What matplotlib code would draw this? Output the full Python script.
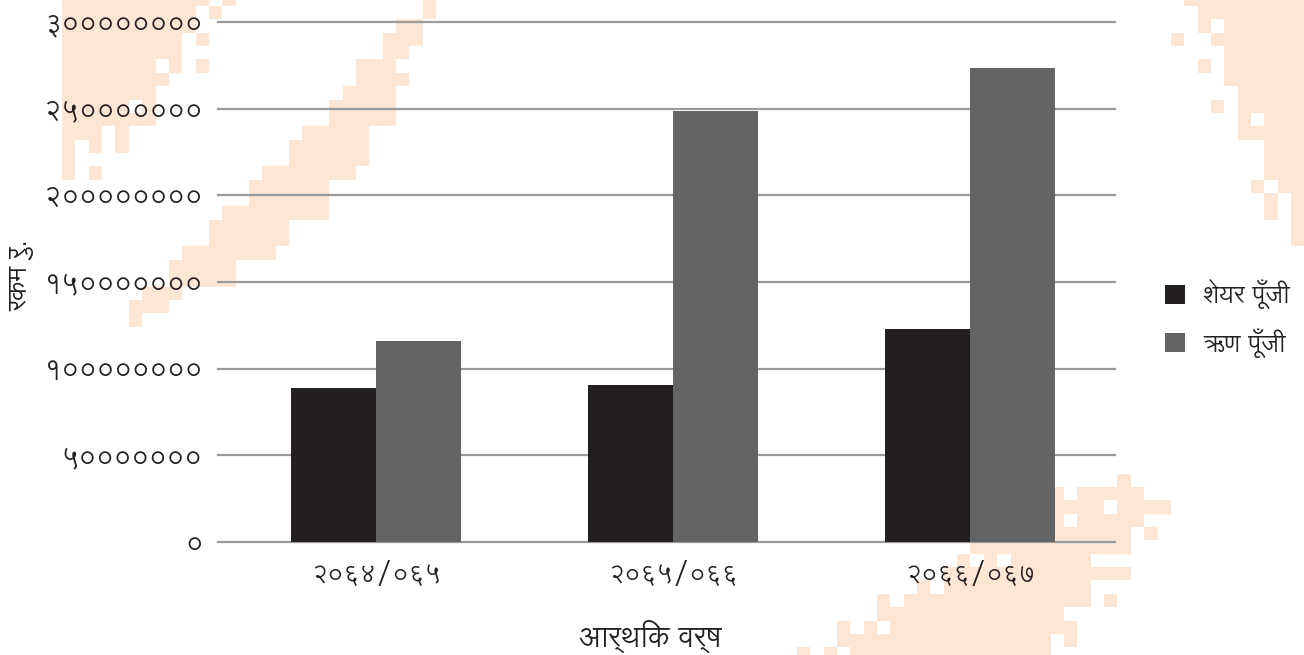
import matplotlib
matplotlib.use("Agg")
import matplotlib.pyplot as plt
from matplotlib.patches import Rectangle
import numpy as np

# ---- data ----
categories = ["२०६४/०६५", "२०६५/०६६", "२०६६/०६७"]
share_capital = [88800000, 90600000, 122900000]
debt_capital = [116000000, 248700000, 273500000]
series_names = ["शेयर पूँजी", "ऋण पूँजी"]
ytick_values = [0, 50000000, 100000000, 150000000, 200000000, 250000000, 300000000]
ytick_labels = ["०", "५०००००००", "१००००००००", "१५०००००००", "२००००००००", "२५०००००००", "३००००००००"]
x_title = "आर्थिक वर्ष"
y_title = "रकम रु."

# ---- decorative pixel background (row, first col, last col) on a 13.36 px grid ----
BG_RUNS = [
    (-1, 0, 10), (-1, 12, 12), (0, 0, 9), (0, 11, 11), (1, 0, 9), (2, 0, 8), (2, 10, 10),
    (3, 0, 8), (4, 0, 6), (4, 8, 8), (4, 10, 10), (5, 0, 7), (6, 0, 6), (7, 0, 4), (7, 6, 6),
    (8, 0, 6), (9, 0, 2), (9, 4, 4), (10, 0, 0), (10, 2, 2), (10, 4, 4), (11, 0, 0),
    (12, 0, 0), (12, 2, 2),
    (-1, 27, 27), (0, 27, 27), (1, 25, 26), (2, 24, 26), (3, 24, 25), (4, 22, 24), (5, 22, 25),
    (6, 21, 24), (7, 20, 24), (8, 20, 24), (9, 18, 22), (10, 17, 22), (11, 17, 22),
    (12, 15, 21), (13, 14, 19), (14, 14, 19), (15, 12, 19), (16, 11, 16), (17, 11, 16),
    (18, 9, 15), (19, 8, 12), (20, 8, 12), (21, 6, 8), (22, 5, 7), (23, 5, 5),
    (-1, 84, 92), (0, 85, 92), (1, 85, 85), (1, 87, 92), (2, 83, 83), (2, 86, 92), (3, 87, 92),
    (4, 85, 85), (4, 87, 92), (5, 87, 92), (6, 88, 92), (7, 86, 86), (7, 88, 92), (8, 88, 88),
    (8, 90, 92), (9, 88, 92), (10, 90, 92), (11, 90, 92), (12, 90, 92), (13, 89, 89),
    (13, 91, 92), (14, 90, 90), (14, 92, 92), (15, 90, 90), (15, 92, 92), (16, 92, 92), (17, 92, 92),
    (35, 79, 79), (36, 74, 74), (36, 76, 80), (37, 73, 77), (37, 79, 82), (38, 73, 74), (38, 76, 80),
    (39, 73, 79), (39, 81, 81), (40, 68, 79), (41, 67, 67), (41, 69, 69), (41, 71, 76),
    (42, 66, 79), (43, 64, 64), (43, 66, 76), (44, 61, 61), (44, 63, 76), (44, 78, 78),
    (45, 61, 74), (46, 58, 58), (46, 60, 60), (46, 62, 75), (47, 58, 73), (47, 75, 75),
    (48, 55, 55), (48, 57, 57), (48, 59, 73),
]
CELL, X0, Y0 = 13.36, 62.0, 6.0
W, H = 1304, 655

plt.rcParams['font.family'] = ['Lohit Devanagari', 'Noto Sans Devanagari', 'DejaVu Sans']

fig = plt.figure(figsize=(W / 100, H / 100), dpi=100)
for r, c0, c1 in BG_RUNS:
    px = X0 + c0 * CELL
    py = Y0 + r * CELL
    fig.patches.append(Rectangle((px / W, 1 - (py + CELL) / H), (c1 - c0 + 1) * CELL / W, CELL / H,
                                 transform=fig.transFigure, facecolor="#fee6d5", edgecolor="none",
                                 zorder=-10))

ax = fig.add_axes([218 / W, 1 - 542 / H, (1115 - 218) / W, (542 - 22) / H])
ax.set_zorder(1)
ax.patch.set_alpha(0)
x = np.arange(len(categories))
w = 0.286
ax.bar(x - w / 2, share_capital, w, color="#231f20", label=series_names[0], zorder=3)
ax.bar(x + w / 2, debt_capital, w, color="#636466", label=series_names[1], zorder=3)
ax.set_ylim(0, 300000000)
ax.set_xlim(-0.532, 2.488)
ax.set_yticks(ytick_values)
ax.set_yticklabels(ytick_labels, fontsize=19.5, color="#231f20")
ax.set_xticks(x)
ax.set_xticklabels(categories, fontsize=18, color="#231f20")
ax.grid(axis='y', color='#9a9a9a', linewidth=1.6, zorder=1)
for gl in ax.get_ygridlines():
    gl.set_clip_on(False)
for s in ax.spines.values():
    s.set_visible(False)
ax.tick_params(axis='y', length=0, pad=11)
ax.tick_params(axis='x', length=0, pad=14)
fig.text(650 / W, 1 - 637 / H, x_title, fontsize=21, color="#231f20", ha="center", va="center")
fig.text(20 / W, 1 - 275 / H, y_title, rotation=90, fontsize=19, color="#231f20",
         ha="center", va="center")
leg = ax.legend(loc="center left", bbox_to_anchor=(1.031, 0.43), frameon=False, fontsize=18,
                handlelength=0.8, handleheight=0.8, handletextpad=0.7, labelspacing=0.75,
                labelcolor="#231f20")
fig.savefig("out.png", dpi=100)
